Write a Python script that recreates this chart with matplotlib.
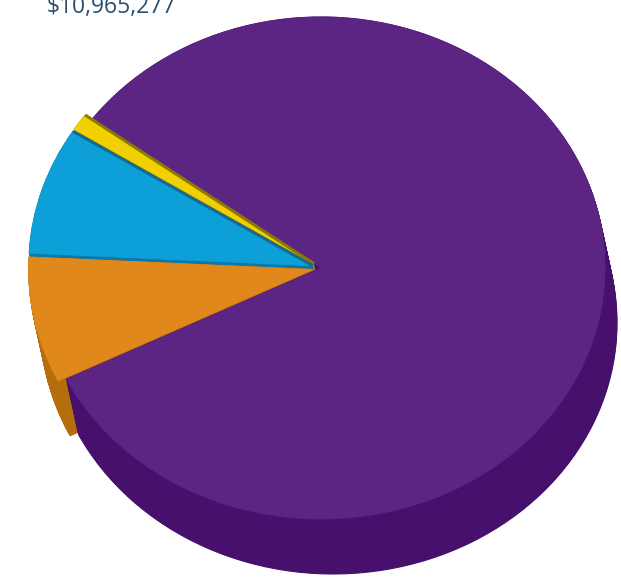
import numpy as np
import matplotlib
matplotlib.use('Agg')
import matplotlib.pyplot as plt

# slice shares (counterclockwise from the lower-left edge of the big slice)
names = ['Purple', 'Yellow', 'Blue', 'Orange']
shares = [82.6, 1.1, 8.2, 8.1]
top_colors = ['#5c2483', '#f0d000', '#0c9fd8', '#e0881c']
side_colors = ['#46106c', '#b8a000', '#0a78a8', '#b46e0c']
edge_dark = ['#3c0c5c', '#8c7a00', '#17698e', '#9a5c08']
explode = [0.0, 0.03, 0.03, 0.03]
start = 206.3
total_label = '$10,965,277'

W, H = 621, 582
cx, cy = 321, 268      # centre of top face, pixels
a, b = 284, 251        # semi axes of top face, pixels
shift_x, shift_y = 12, 55   # extrusion of the side, pixels

fig = plt.figure(figsize=(W / 100, H / 100), dpi=100)
ax = fig.add_axes([0, 0, 1, 1])

# side: stack of darker copies moved down and a bit right
for k in np.linspace(1, 0, 50):
    ws, _ = ax.pie(shares, colors=side_colors, explode=explode, startangle=start,
                   center=(k * shift_x / a, -k * shift_y / b), radius=1, frame=True,
                   wedgeprops=dict(linewidth=0.8))
    for w, c in zip(ws, side_colors):
        w.set_edgecolor(c)

wedges, _ = ax.pie(shares, colors=top_colors, explode=explode, startangle=start,
                   center=(0, 0), radius=1, frame=True,
                   wedgeprops=dict(linewidth=0.6))
for w, c in zip(wedges, top_colors):
    w.set_edgecolor(c)

# darker seam along the lower straight edge of the small slices
cum = start + 360 * np.cumsum([0] + shares[:-1]) / sum(shares)
for i in (1, 2):
    th = np.deg2rad(cum[i])
    mid = np.deg2rad(cum[i] + 180 * shares[i] / sum(shares))
    ox, oy = explode[i] * np.cos(mid), explode[i] * np.sin(mid)
    ax.plot([ox, ox + np.cos(th)], [oy, oy + np.sin(th)], color=edge_dark[i],
            lw=2.2, solid_capstyle='butt')

ax.set_aspect('auto')
ax.set_xlim((0 - cx) / a, (W - cx) / a)
ax.set_ylim((cy - H) / b, cy / b)
ax.axis('off')

fig.text(47 / W, 1 - 13 / H, total_label, fontsize=16.5, family='Open Sans',
         color='#2b4f72', va='baseline', ha='left')

fig.savefig('out.png', dpi=100, facecolor='white')
